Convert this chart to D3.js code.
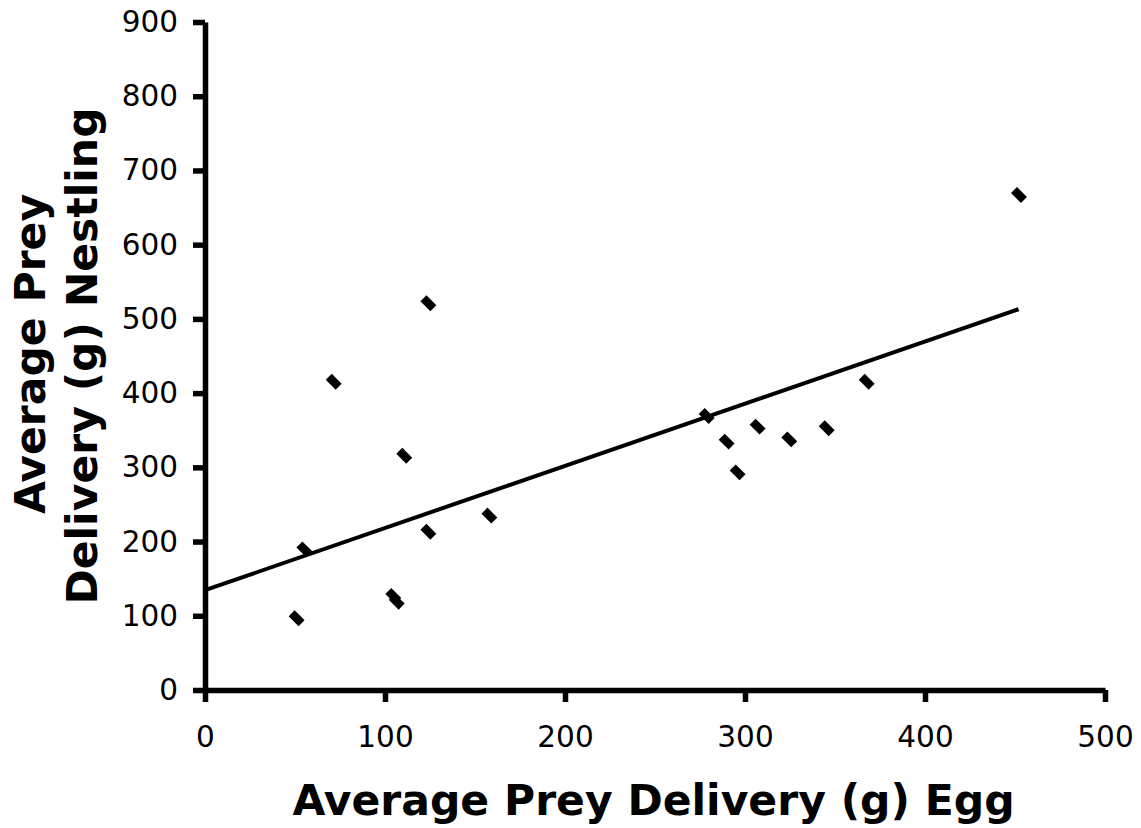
<!DOCTYPE html>
<html>
<head>
<meta charset="utf-8">
<script src="https://cdn.jsdelivr.net/npm/d3@7"></script>
<style>
  body { margin: 0; background: #fff; }
  svg { display: block; font-family: "DejaVu Sans", Verdana, sans-serif; }
</style>
</head>
<body>
<svg width="1141" height="828"></svg>
<script>
// average prey delivery (g) during egg stage vs nestling stage
var eggDelivery = [50.9, 55.2, 71.5, 104.6, 106.5, 110.7, 124.1, 124.1, 158, 278.7, 289.8, 295.9, 307, 324.6, 345.4, 367.6, 452.2]
var nestlingDelivery = [96.6, 189.5, 415.4, 126.6, 119, 315.7, 213.3, 521, 235, 369.2, 334.6, 293.2, 354.8, 337.7, 352.6, 415.4, 667]

// trend line
var trendX = [0, 452]
var trendY = [134.5, 513]

var xTicks = [0, 100, 200, 300, 400, 500]
var yTicks = [0, 100, 200, 300, 400, 500, 600, 700, 800, 900]

var xTitle = "Average Prey Delivery (g) Egg"
var yTitle = ["Average Prey", "Delivery (g) Nestling"]

var svg = d3.select("svg")
var plotLeft = 205, plotTop = 22, plotW = 900, plotH = 668

var x = d3.scaleLinear().domain([0, 500]).range([plotLeft, plotLeft + plotW])
var y = d3.scaleLinear().domain([0, 900]).range([plotTop + plotH, plotTop])

var xAxis = svg.append("g")
    .attr("transform", "translate(0," + y(0) + ")")
    .call(d3.axisBottom(x).tickValues(xTicks).tickSize(12).tickSizeOuter(0).tickPadding(24))

var yAxis = svg.append("g")
    .attr("transform", "translate(" + x(0) + ",0)")
    .call(d3.axisLeft(y).tickValues(yTicks).tickSize(12).tickSizeOuter(0).tickPadding(15))

svg.selectAll(".domain, .tick line")
    .attr("stroke", "#000")
    .attr("stroke-width", 5.5)

svg.selectAll(".tick text")
    .attr("font-family", "DejaVu Sans, Verdana, sans-serif")
    .attr("font-size", 29.5)
    .attr("fill", "#000")

// trend line
var trend = trendX.map(function(d, i) { return [d, trendY[i]] })
svg.append("path")
    .datum(trend)
    .attr("d", d3.line().x(d => x(d[0])).y(d => y(d[1])))
    .attr("stroke", "#000")
    .attr("stroke-width", 4)
    .attr("fill", "none")

// diamond markers
var points = eggDelivery.map(function(d, i) { return { egg: d, nest: nestlingDelivery[i] } })
svg.selectAll(".pt")
    .data(points)
    .enter().append("rect")
    .attr("class", "pt")
    .attr("x", -7)
    .attr("y", -4.25)
    .attr("width", 14)
    .attr("height", 8.5)
    .attr("fill", "#000")
    .attr("transform", d => "translate(" + x(d.egg) + "," + y(d.nest) + ") rotate(45)")

// axis titles
svg.append("text")
    .attr("x", 653.5)
    .attr("y", 815)
    .attr("text-anchor", "middle")
    .attr("font-size", 42.5)
    .attr("font-weight", "bold")
    .text(xTitle)

var ty = svg.selectAll(".ytitle")
    .data(yTitle)
    .enter().append("text")
    .attr("class", "ytitle")
    .attr("transform", (d, i) => "translate(" + (45 + i * 52) + "," + (354 + i * 2) + ") rotate(-90)")
    .attr("text-anchor", "middle")
    .attr("font-size", 42.5)
    .attr("font-weight", "bold")
    .text(d => d)
</script>
</body>
</html>
